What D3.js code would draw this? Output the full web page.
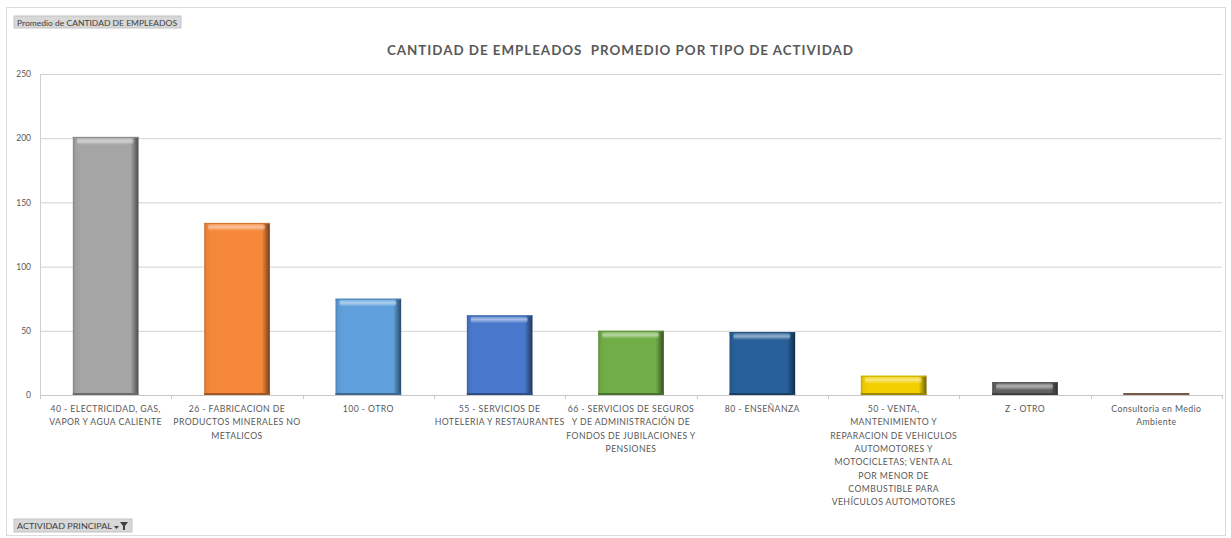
<!DOCTYPE html>
<html>
<head>
<meta charset="utf-8">
<script src="https://cdn.jsdelivr.net/npm/d3@7"></script>
<style>
  html, body { margin: 0; padding: 0; background: #fff; }
  svg { display: block; font-family: Lato, "Open Sans", sans-serif; }
</style>
</head>
<body>
<svg id="chart" width="1231" height="538"></svg>
<script>
// ---- data ----
const categories = [
  ["40 - ELECTRICIDAD, GAS,", "VAPOR Y AGUA CALIENTE"],
  ["26 - FABRICACION DE", "PRODUCTOS MINERALES NO", "METALICOS"],
  ["100 - OTRO"],
  ["55 - SERVICIOS DE", "HOTELERIA Y RESTAURANTES"],
  ["66 - SERVICIOS DE SEGUROS", "Y DE ADMINISTRACIÓN DE", "FONDOS DE JUBILACIONES Y", "PENSIONES"],
  ["80 - ENSEÑANZA"],
  ["50 - VENTA,", "MANTENIMIENTO Y", "REPARACION DE VEHICULOS", "AUTOMOTORES Y", "MOTOCICLETAS; VENTA AL", "POR MENOR DE", "COMBUSTIBLE PARA", "VEHÍCULOS AUTOMOTORES"],
  ["Z - OTRO"],
  ["Consultoria en Medio", "Ambiente"]
];
const values = [201, 134, 75, 62, 50, 49, 15, 10, 1.5];
const barColors = ["#a5a5a5", "#f5883a", "#5fa0dc", "#4a78cc", "#72ae48", "#27609a", "#f2d000", "#626262", "#b4876e"];
const yTicks = [0, 50, 100, 150, 200, 250];
const title = "CANTIDAD DE EMPLEADOS  PROMEDIO POR TIPO DE ACTIVIDAD";
const valueFieldLabel = "Promedio de CANTIDAD DE EMPLEADOS";
const axisFieldLabel = "ACTIVIDAD PRINCIPAL";

// ---- layout ----
const svg = d3.select("#chart");
const plot = { left: 40, right: 1222, top: 74, bottom: 395 };
const textColor = "#595959";

const x = d3.scaleBand()
  .domain(d3.range(categories.length))
  .range([plot.left, plot.right])
  .paddingInner(0.5)
  .paddingOuter(0.25);

const y = d3.scaleLinear().domain([0, 250]).range([plot.bottom, plot.top]);

// chart frame
svg.append("rect")
  .attr("x", 6.5).attr("y", 7.5).attr("width", 1219).attr("height", 528)
  .attr("fill", "#fff").attr("stroke", "#dcdcdc").attr("stroke-width", 1);

// gridlines + y axis
const yAxis = d3.axisLeft(y).tickValues(yTicks).tickSize(-(plot.right - plot.left)).tickPadding(9);
const gy = svg.append("g").attr("transform", `translate(${plot.left},0)`).call(yAxis);
gy.select(".domain").attr("stroke", "#d0d0d0");
gy.selectAll(".tick line").attr("stroke", "#d2d2d2").attr("stroke-width", 1);
gy.selectAll(".tick text")
  .attr("fill", textColor).attr("font-size", 8.5).attr("font-family", "Lato, sans-serif");

// x axis (baseline with ticks at band boundaries)
const xAxisG = svg.append("g");
xAxisG.append("line")
  .attr("x1", plot.left).attr("x2", plot.right)
  .attr("y1", plot.bottom + 0.5).attr("y2", plot.bottom + 0.5)
  .attr("stroke", "#c8c8c8");
const boundaries = d3.range(categories.length + 1).map(i => plot.left + i * (plot.right - plot.left) / categories.length);
xAxisG.selectAll("line.tk").data(boundaries).join("line")
  .attr("class", "tk")
  .attr("x1", d => Math.round(d) + 0.5).attr("x2", d => Math.round(d) + 0.5)
  .attr("y1", plot.bottom).attr("y2", plot.bottom + 4)
  .attr("stroke", "#c8c8c8");

// gradients for bevel effect
const defs = svg.append("defs");
barColors.forEach((c, i) => {
  const g = defs.append("linearGradient").attr("id", "bg" + i)
    .attr("x1", "0").attr("x2", "1").attr("y1", "0").attr("y2", "0");
  const base = d3.color(c);
  g.append("stop").attr("offset", "0%").attr("stop-color", base.darker(0.6));
  g.append("stop").attr("offset", "4%").attr("stop-color", base.darker(0.1));
  g.append("stop").attr("offset", "12%").attr("stop-color", base);
  g.append("stop").attr("offset", "88%").attr("stop-color", base);
  g.append("stop").attr("offset", "94%").attr("stop-color", base.darker(0.9));
  g.append("stop").attr("offset", "100%").attr("stop-color", base.darker(2.2));
});
const hl = defs.append("linearGradient").attr("id", "hl")
  .attr("x1", "0").attr("x2", "0").attr("y1", "0").attr("y2", "1");
hl.append("stop").attr("offset", "0%").attr("stop-color", "#fff").attr("stop-opacity", 0.15);
hl.append("stop").attr("offset", "45%").attr("stop-color", "#fff").attr("stop-opacity", 0.5);
hl.append("stop").attr("offset", "100%").attr("stop-color", "#fff").attr("stop-opacity", 0.0);

// bars
const bars = svg.append("g").selectAll("g.bar").data(values).join("g").attr("class", "bar");
bars.append("rect")
  .attr("x", (d, i) => x(i)).attr("width", x.bandwidth())
  .attr("y", d => y(d)).attr("height", d => y(0) - y(d))
  .attr("fill", (d, i) => `url(#bg${i})`);
bars.append("rect")
  .attr("x", (d, i) => x(i) + 4).attr("width", x.bandwidth() - 9)
  .attr("y", d => y(d) + 1)
  .attr("height", d => Math.max(0, Math.min(7, (y(0) - y(d)) - 2)))
  .attr("rx", 2)
  .attr("fill", "url(#hl)");
bars.append("rect")
  .attr("x", (d, i) => x(i)).attr("width", x.bandwidth())
  .attr("y", d => y(d)).attr("height", d => Math.min(1, y(0) - y(d)))
  .attr("fill", (d, i) => d3.color(barColors[i]).darker(0.5));
bars.append("rect")
  .attr("x", (d, i) => x(i)).attr("width", x.bandwidth())
  .attr("y", d => Math.max(y(d), y(0) - 2)).attr("height", d => Math.min(2, y(0) - y(d)))
  .attr("fill", (d, i) => d3.color(barColors[i]).darker(1.2));

// x labels
const lineH = 13.3;
const lbl = svg.append("g").selectAll("text").data(categories).join("text")
  .attr("x", (d, i) => x(i) + x.bandwidth() / 2)
  .attr("y", plot.bottom + 17)
  .attr("text-anchor", "middle")
  .attr("fill", textColor)
  .attr("font-size", 8.7)
  .attr("letter-spacing", 0.4);
lbl.selectAll("tspan").data(d => d).join("tspan")
  .attr("x", function() { return d3.select(this.parentNode).attr("x"); })
  .attr("dy", (d, j) => j === 0 ? 0 : lineH)
  .text(d => d);

// title
svg.append("text")
  .attr("x", 620).attr("y", 55)
  .attr("text-anchor", "middle")
  .attr("fill", textColor)
  .attr("font-size", 13.4)
  .attr("font-weight", 700)
  .attr("textLength", 466)
  .attr("lengthAdjust", "spacing")
  .style("white-space", "pre")
  .text(title);

// field buttons
const b1 = svg.append("g");
b1.append("rect").attr("x", 14).attr("y", 16).attr("width", 167).attr("height", 12)
  .attr("fill", "#d8d8d8").attr("stroke", "#c4c4c4");
b1.append("text").attr("x", 17).attr("y", 25.5).attr("font-size", 7.3)
  .attr("fill", "#404040").attr("textLength", 160).attr("lengthAdjust", "spacingAndGlyphs")
  .text(valueFieldLabel);

const b2 = svg.append("g");
b2.append("rect").attr("x", 14).attr("y", 519).attr("width", 118).attr("height", 13)
  .attr("fill", "#d8d8d8").attr("stroke", "#c4c4c4");
b2.append("text").attr("x", 17).attr("y", 529).attr("font-size", 7.3)
  .attr("fill", "#404040").attr("textLength", 95).attr("lengthAdjust", "spacingAndGlyphs")
  .text(axisFieldLabel);
b2.append("path").attr("d", "M114,526 L119,526 L116.5,529 Z").attr("fill", "#404040");
b2.append("path").attr("d", "M120,522 L128,522 L125,526 L125,530 L123,530 L123,526 Z").attr("fill", "#404040");
</script>
</body>
</html>
